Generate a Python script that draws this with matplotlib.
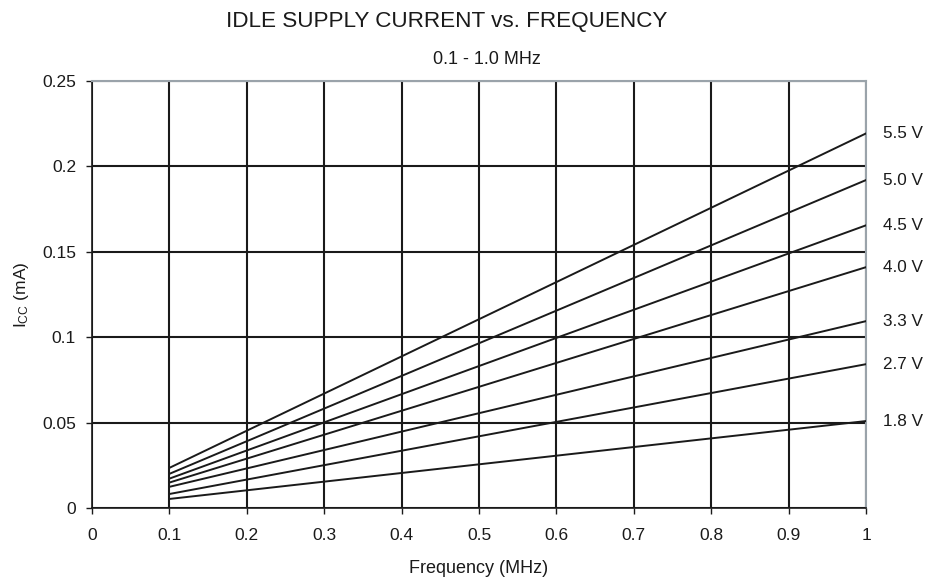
import matplotlib
matplotlib.use("Agg")
import matplotlib.pyplot as plt

plt.rcParams['font.family'] = ['Liberation Sans', 'DejaVu Sans']
plt.rcParams['mathtext.fontset'] = 'custom'
plt.rcParams['mathtext.rm'] = 'Liberation Sans'
plt.rcParams['mathtext.it'] = 'Liberation Sans'

# --- Data ---
freq = [0.1, 1.0]
voltages = ["5.5 V", "5.0 V", "4.5 V", "4.0 V", "3.3 V", "2.7 V", "1.8 V"]
icc_55 = [0.0235, 0.2193]
icc_50 = [0.0200, 0.1920]
icc_45 = [0.0172, 0.1655]
icc_40 = [0.0149, 0.1410]
icc_33 = [0.0124, 0.1094]
icc_27 = [0.0082, 0.0842]
icc_18 = [0.0053, 0.0509]
series = [icc_55, icc_50, icc_45, icc_40, icc_33, icc_27, icc_18]

x_ticks = [0, 0.1, 0.2, 0.3, 0.4, 0.5, 0.6, 0.7, 0.8, 0.9, 1.0]
x_tick_labels = ["0", "0.1", "0.2", "0.3", "0.4", "0.5", "0.6", "0.7", "0.8", "0.9", "1"]
y_ticks = [0, 0.05, 0.1, 0.15, 0.2, 0.25]
y_tick_labels = ["0", "0.05", "0.1", "0.15", "0.2", "0.25"]

# --- Plot ---
W, H = 926, 581
fig = plt.figure(figsize=(W / 100, H / 100), dpi=100)
ax = fig.add_axes([92 / W, 1 - 508 / H, 774 / W, 427 / H])

for vals in series:
    ax.plot(freq, vals, color="#1a1a1a", lw=1.4, zorder=3)

ax.set_xlim(0, 1.0)
ax.set_ylim(0, 0.25)
ax.set_xticks(x_ticks)
ax.set_xticklabels(x_tick_labels)
ax.set_yticks(y_ticks)
ax.set_yticklabels(y_tick_labels)
ax.grid(True, color="#1a1a1a", lw=1.5)
ax.set_axisbelow(True)
ax.tick_params(direction="out", length=4.5, width=1, labelsize=12.5, colors="#1a1a1a")
ax.tick_params(axis="x", pad=10)
ax.tick_params(axis="y", pad=7)

for side in ("left", "bottom"):
    ax.spines[side].set_color("#1a1a1a")
    ax.spines[side].set_linewidth(1.2)
for side in ("top", "right"):
    ax.spines[side].set_color("#9aa3aa")
    ax.spines[side].set_linewidth(1.5)

# voltage labels to the right of the plot
for lab, vals in zip(voltages, series):
    ax.annotate(lab, xy=(1.0, vals[-1]), xytext=(12, 0), textcoords="offset points",
                va="center", ha="left", fontsize=12.3, color="#1a1a1a", annotation_clip=False)

ax.set_xlabel("Frequency (MHz)", fontsize=13, color="#1a1a1a", labelpad=12)
ax.set_ylabel(r"I$_{\mathregular{CC}}$ (mA)", fontsize=12.5, color="#1a1a1a", labelpad=8)

fig.text(446.5 / W, 1 - 22 / H, "IDLE SUPPLY CURRENT vs. FREQUENCY", ha="center", va="center",
         fontsize=16.2, color="#1a1a1a")
fig.text(487 / W, 1 - 60 / H, "0.1 - 1.0 MHz", ha="center", va="center", fontsize=13, color="#1a1a1a")

fig.savefig("out.png", dpi=100)
